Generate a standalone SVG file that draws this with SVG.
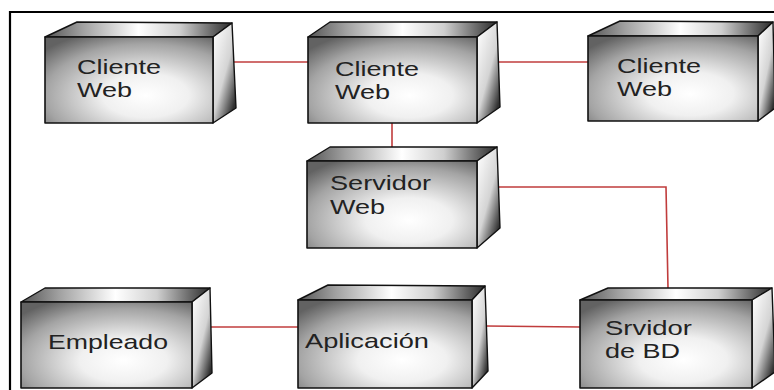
<svg xmlns="http://www.w3.org/2000/svg" width="774" height="390" viewBox="0 0 774 390">
  <defs>
    <radialGradient id="gFront" cx="0.6" cy="0.68" r="0.8" fx="0.6" fy="0.68">
      <stop offset="0" stop-color="#ffffff"/>
      <stop offset="0.32" stop-color="#f0f0f0"/>
      <stop offset="0.75" stop-color="#a4a4a4"/>
      <stop offset="1" stop-color="#626262"/>
    </radialGradient>
    <linearGradient id="gTop" x1="0" y1="0" x2="1" y2="0">
      <stop offset="0" stop-color="#555555"/>
      <stop offset="0.2" stop-color="#a0a0a0"/>
      <stop offset="0.5" stop-color="#ffffff"/>
      <stop offset="0.72" stop-color="#cfcfcf"/>
      <stop offset="1" stop-color="#2a2a2a"/>
    </linearGradient>
    <linearGradient id="gSide" x1="0" y1="0.15" x2="0.7" y2="1">
      <stop offset="0" stop-color="#fbfbfb"/>
      <stop offset="0.55" stop-color="#d4d4d4"/>
      <stop offset="1" stop-color="#303030"/>
    </linearGradient>
  </defs>
  <style>
    .front { fill: url(#gFront); stroke: #111; stroke-width: 1.6; stroke-linejoin: round; }
    .top { fill: url(#gTop); stroke: #111; stroke-width: 1.4; stroke-linejoin: round; }
    .side { fill: url(#gSide); stroke: #111; stroke-width: 1.4; stroke-linejoin: round; }
    .lbl { font-family: "Liberation Sans", Arial, sans-serif; font-size: 21px; fill: #222222; }
    .wire { fill: none; stroke: #c03c3c; stroke-width: 1.6; }
    .frame { fill: none; stroke: #000; stroke-width: 2.2; }
  </style>

  <rect width="774" height="390" fill="#ffffff"/>
  <path class="frame" d="M10,390 V12 H774"/>

  <!-- connectors -->
  <g id="connectors">
    <path class="wire" d="M234,62 H308"/>
    <path class="wire" d="M499,62 H588"/>
    <path class="wire" d="M392,123 V147"/>
    <path class="wire" d="M499,187 H666 L668,288"/>
    <path class="wire" d="M211,327 H298"/>
    <path class="wire" d="M486,326 L580,327"/>
  </g>

  <!-- top row -->
  <g id="cliente-web-1">
    <polygon class="top" points="45,37 77,22 232,23 213,37"/>
    <polygon class="side" points="213,37 232,23 236,108 213,123"/>
    <rect class="front" x="45" y="37" width="168" height="86"/>
    <text class="lbl" x="77" y="74" textLength="84" lengthAdjust="spacingAndGlyphs">Cliente</text>
    <text class="lbl" x="77" y="97" textLength="55" lengthAdjust="spacingAndGlyphs">Web</text>
  </g>

  <g id="cliente-web-2">
    <polygon class="top" points="308,37 330,22 497,22 477,37"/>
    <polygon class="side" points="477,37 497,22 500,107 477,123"/>
    <rect class="front" x="308" y="37" width="169" height="86"/>
    <text class="lbl" x="335" y="76" textLength="84" lengthAdjust="spacingAndGlyphs">Cliente</text>
    <text class="lbl" x="335" y="99" textLength="55" lengthAdjust="spacingAndGlyphs">Web</text>
  </g>

  <g id="cliente-web-3">
    <polygon class="top" points="588,36 620,21 773,22 758,36"/>
    <polygon class="side" points="758,36 773,22 775,108 758,121"/>
    <rect class="front" x="588" y="36" width="170" height="85"/>
    <text class="lbl" x="617" y="73" textLength="84" lengthAdjust="spacingAndGlyphs">Cliente</text>
    <text class="lbl" x="617" y="96" textLength="55" lengthAdjust="spacingAndGlyphs">Web</text>
  </g>

  <!-- middle -->
  <g id="servidor-web">
    <polygon class="top" points="307,161 330,147 497,147 477,161"/>
    <polygon class="side" points="477,161 497,147 500,228 477,248"/>
    <rect class="front" x="307" y="161" width="170" height="87"/>
    <text class="lbl" x="330" y="190" textLength="101" lengthAdjust="spacingAndGlyphs">Servidor</text>
    <text class="lbl" x="330" y="214" textLength="55" lengthAdjust="spacingAndGlyphs">Web</text>
  </g>

  <!-- bottom row -->
  <g id="empleado">
    <polygon class="top" points="21,302 45,288 210,288 192,302"/>
    <polygon class="side" points="192,302 210,288 212,373 192,388"/>
    <rect class="front" x="21" y="302" width="171" height="86"/>
    <text class="lbl" x="48" y="349" textLength="120" lengthAdjust="spacingAndGlyphs">Empleado</text>
  </g>

  <g id="aplicacion">
    <polygon class="top" points="298,300 328,285 485,286 472,300"/>
    <polygon class="side" points="472,300 485,286 488,371 472,388"/>
    <rect class="front" x="298" y="300" width="174" height="88"/>
    <text class="lbl" x="305" y="348" textLength="124" lengthAdjust="spacingAndGlyphs">Aplicación</text>
  </g>

  <g id="servidor-bd">
    <polygon class="top" points="580,300 608,288 772,288 752,300"/>
    <polygon class="side" points="752,300 772,288 775,372 752,388"/>
    <rect class="front" x="580" y="300" width="172" height="88"/>
    <text class="lbl" x="605" y="335" textLength="87" lengthAdjust="spacingAndGlyphs">Srvidor</text>
    <text class="lbl" x="605" y="358" textLength="75" lengthAdjust="spacingAndGlyphs">de BD</text>
  </g>
</svg>
